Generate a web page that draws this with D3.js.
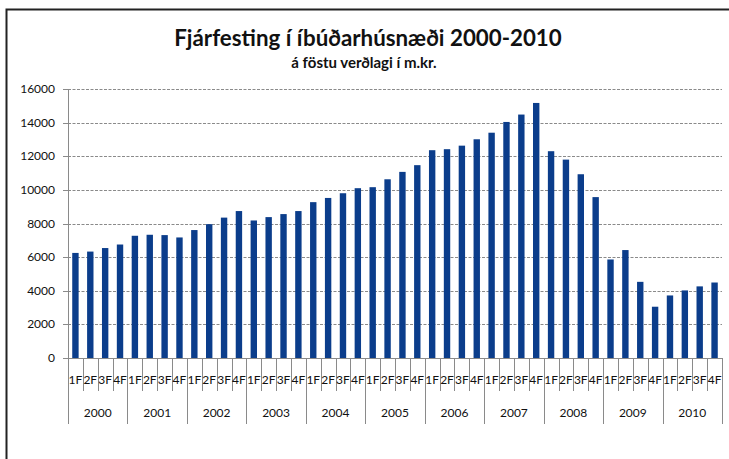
<!DOCTYPE html>
<html>
  <head>
    <meta charset="utf-8">
    <title>Fjárfesting í íbúðarhúsnæði</title>
    <style>
      body {
        margin: 0;
        background: #fff;
      }
      text {
        font-family: Lato, "Open Sans", sans-serif;
        fill: #111;
      }
      .title {
        font-size: 22.3px;
        font-weight: bold;
      }
      .subtitle {
        font-size: 15px;
        font-weight: bold;
      }
      .tick-label {
        font-size: 12px;
      }
      .grid {
        stroke: #8a8a8a;
        stroke-width: 1px;
        stroke-dasharray: 3,1.5;
      }
      .axis-line {
        stroke: #8a8a8a;
        stroke-width: 1px;
      }
      .bar {
        fill: #0b3d8b;
      }
    </style>
    <script src="https://cdn.jsdelivr.net/npm/d3@7"></script>
  </head>
  <body>
  <script type="text/javascript">
    // data (m.kr., fixed prices)
    var years = ['2000','2001','2002','2003','2004','2005','2006','2007','2008','2009','2010'];
    var quarters = ['1F','2F','3F','4F'];
    var values = [
      6250, 6330, 6540, 6750,
      7270, 7330, 7310, 7170,
      7610, 7960, 8350, 8740,
      8180, 8380, 8560, 8740,
      9270, 9520, 9800, 10100,
      10160, 10630, 11070, 11470,
      12360, 12420, 12630, 13010,
      13400, 14040, 14480, 15170,
      12300, 11800, 10930, 9570,
      5860, 6420, 4530, 3050,
      3720, 4020, 4260, 4490
    ];
    var yTicks = [0, 2000, 4000, 6000, 8000, 10000, 12000, 14000, 16000];

    var width = 729;
    var height = 459;
    // plot area
    var pLeft = 68, pRight = 722, pTop = 89, pBottom = 358;

    var svg = d3.select("body")
                .append("svg")
                .attr("width", width)
                .attr("height", height);

    // chart frame (only left and top edges are inside the picture)
    svg.append('rect')
       .attr('x', 6.5).attr('y', 9.5)
       .attr('width', 740).attr('height', 470)
       .attr('fill', 'none')
       .attr('stroke', '#222')
       .attr('stroke-width', 2);

    svg.append('text').attr('class', 'title')
       .attr('x', 368).attr('y', 46)
       .attr('text-anchor', 'middle')
       .text('Fjárfesting í íbúðarhúsnæði 2000-2010');
    svg.append('text').attr('class', 'subtitle')
       .attr('x', 364).attr('y', 68)
       .attr('text-anchor', 'middle')
       .text('á föstu verðlagi í m.kr.');

    // one band per quarter
    var cats = [];
    years.forEach(function(y){
      quarters.forEach(function(q){ cats.push(y + '-' + q); });
    });
    var data = cats.map(function(c, i){
      return {key: c, year: c.split('-')[0], q: c.split('-')[1], value: values[i]};
    });

    var x = d3.scaleBand()
              .domain(cats)
              .range([pLeft, pRight])
              .paddingInner(0.57)
              .paddingOuter(0.285);
    var y = d3.scaleLinear()
              .domain([0, 16000])
              .range([pBottom, pTop]);

    // gridlines
    svg.selectAll('.grid')
       .data(yTicks.slice(1))
       .enter()
       .append('line')
         .attr('class', 'grid')
         .attr('x1', pLeft).attr('x2', pRight)
         .attr('y1', function(d){ return Math.round(y(d)) + 0.5; })
         .attr('y2', function(d){ return Math.round(y(d)) + 0.5; });

    // y axis
    svg.append('line').attr('class', 'axis-line')
       .attr('x1', pLeft + 0.5).attr('x2', pLeft + 0.5)
       .attr('y1', pTop).attr('y2', 424);
    svg.selectAll('.ytick')
       .data(yTicks)
       .enter()
       .append('line')
         .attr('class', 'axis-line')
         .attr('x1', pLeft - 5).attr('x2', pLeft)
         .attr('y1', function(d){ return Math.round(y(d)) + 0.5; })
         .attr('y2', function(d){ return Math.round(y(d)) + 0.5; });
    svg.selectAll('.ylabel')
       .data(yTicks)
       .enter()
       .append('text')
         .attr('class', 'tick-label')
         .attr('x', 55)
         .attr('y', function(d){ return y(d) + 4; })
         .attr('text-anchor', 'end')
         .text(function(d){ return d; });

    // bars
    svg.selectAll('.bar')
       .data(data)
       .enter()
       .append('rect')
         .attr('class', 'bar')
         .attr('x', function(d){ return x(d.key); })
         .attr('width', x.bandwidth())
         .attr('y', function(d){ return y(d.value); })
         .attr('height', function(d){ return pBottom - y(d.value); });

    // x axis line
    svg.append('line').attr('class', 'axis-line')
       .attr('x1', pLeft).attr('x2', pRight)
       .attr('y1', pBottom + 0.5).attr('y2', pBottom + 0.5);

    var step = x.step();
    // quarter separators and labels
    svg.selectAll('.qsep')
       .data(data)
       .enter()
       .append('line')
         .attr('class', 'axis-line')
         .attr('x1', function(d){ return Math.round(x(d.key) - step * 0.285) + 0.5; })
         .attr('x2', function(d){ return Math.round(x(d.key) - step * 0.285) + 0.5; })
         .attr('y1', pBottom).attr('y2', function(d){ return d.q === '1F' ? 424 : 391; });
    svg.append('line').attr('class', 'axis-line')
       .attr('x1', pRight + 0.5).attr('x2', pRight + 0.5)
       .attr('y1', pBottom).attr('y2', 424);
    svg.selectAll('.qlabel')
       .data(data)
       .enter()
       .append('text')
         .attr('class', 'tick-label')
         .attr('x', function(d){ return x(d.key) + x.bandwidth() / 2; })
         .attr('y', 384)
         .attr('text-anchor', 'middle')
         .text(function(d){ return d.q; });

    // year labels
    svg.selectAll('.ylab')
       .data(years)
       .enter()
       .append('text')
         .attr('class', 'tick-label')
         .attr('x', function(d){
            var a = x(d + '-1F'), b = x(d + '-4F');
            return (a + b + x.bandwidth()) / 2;
         })
         .attr('y', 417)
         .attr('text-anchor', 'middle')
         .text(function(d){ return d; });
  </script>
  </body>
</html>
